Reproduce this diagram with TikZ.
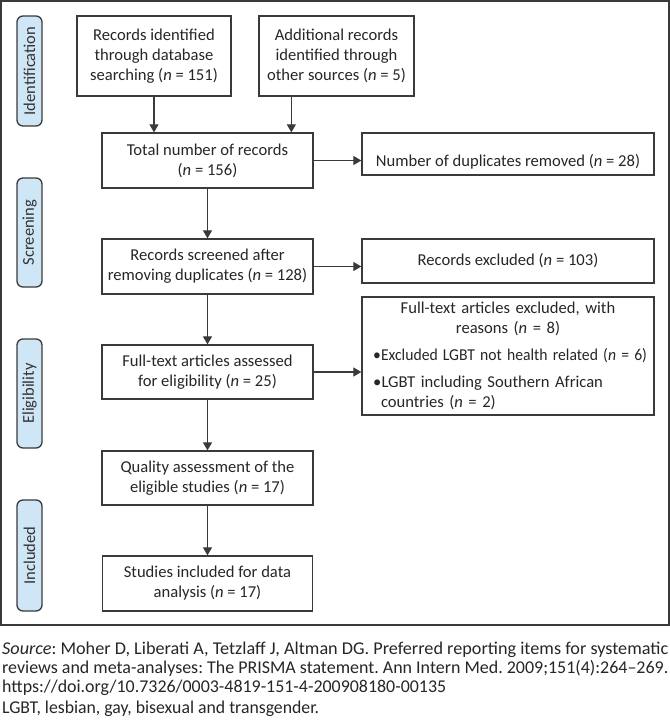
\documentclass[tikz,border=0pt]{standalone}
\usepackage{fontspec}
\usepackage{graphicx}
\setmainfont{Carlito}
\frenchspacing
\usetikzlibrary{arrows.meta}
\definecolor{ln}{HTML}{3A3A3A}
\definecolor{side}{HTML}{CFE6F6}
\begin{document}
\begin{tikzpicture}[x=1pt,y=-1pt,
  box/.style={draw=ln, line width=1.3pt, align=center, inner sep=0pt, text=black!85,
    font=\fontsize{16.6}{20}\selectfont},
  sidebox/.style={draw=ln, fill=side, rounded corners=6pt, line width=1.3pt, rotate=90,
    minimum height=25pt, inner sep=0pt, text=black!80, font=\fontsize{16.5}{20}\selectfont},
  arr/.style={draw=ln, line width=1.2pt, -{Triangle[length=8pt,width=9pt]}},
  captext/.style={anchor=base west, inner sep=0pt, text=black!85, font=\fontsize{18}{19}\selectfont}]
\useasboundingbox (0,0) rectangle (670,721);
\draw[ln, line width=1.2pt] (1,1) rectangle (669,625);

% side labels
\node[sidebox, minimum width=110pt] (sid) at (29.5,71) {Identification};
\node[sidebox, minimum width=109pt] (sscr) at (29.5,232.5) {Screening};
\node[sidebox, minimum width=109pt] (seli) at (29.5,393.5) {Eligibility};
\node[sidebox, minimum width=111pt] (sinc) at (29.5,555.5) {Included};

% main boxes
\node[box, minimum width=154pt, minimum height=80pt] (b1) at (154,56)
  {Records identified\\through database\\searching (\textit{n} = 151)};
\node[box, minimum width=155pt, minimum height=80pt] (b2) at (336.5,56)
  {Additional records\\identified through\\other sources (\textit{n} = 5)};
\node[box, minimum width=211pt, minimum height=55pt] (tot) at (207.5,160.5)
  {Total number of records\\(\textit{n} = 156)};
\node[box, minimum width=292pt, minimum height=42pt, text height=28pt, text depth=4pt] (dup) at (508,154)
  {Number of duplicates removed (\textit{n} = 28)};
\node[box, minimum width=211pt, minimum height=55pt] (scr) at (207.5,266.5)
  {Records screened after\\removing duplicates (\textit{n} = 128)};
\node[box, minimum width=292pt, minimum height=44pt] (exc) at (508,261)
  {Records excluded (\textit{n} = 103)};
\node[box, minimum width=211pt, minimum height=54pt] (ass) at (207.5,372)
  {Full-text articles assessed\\for eligibility (\textit{n} = 25)};
\node[box, minimum width=292pt, minimum height=118pt, text width=280pt, align=left] (ftx) at (508,356)
  {\centering Full-text articles excluded, with\\reasons (\textit{n} = 8)\par
   \raggedright\vspace{7pt}
   \hspace*{5pt}\resizebox{274pt}{\height}{\makebox[8.5pt][l]{\textbullet}Excluded LGBT not health related (\textit{n} = 6)}\\[7pt]
   \hspace*{5pt}\makebox[8.5pt][l]{\textbullet}LGBT including Southern African\\
   \hspace*{13pt}countries (\textit{n} = 2)\par};
\node[box, minimum width=211pt, minimum height=54pt] (qua) at (207.5,478)
  {Quality assessment of the\\eligible studies (\textit{n} = 17)};
\node[box, minimum width=210pt, minimum height=55pt] (inc) at (207.5,583.5)
  {Studies included for data\\analysis (\textit{n} = 17)};

% connectors
\draw[arr] (b1.south) -- (b1.south |- tot.north);
\draw[arr] ([xshift=33pt]b2.south west) -- ([xshift=33pt]b2.south west |- tot.north);
\draw[arr] (tot.east) -- (tot.east -| dup.west);
\draw[arr] (tot.south) -- (scr.north);
\draw[arr] (scr.east) -- (scr.east -| exc.west);
\draw[arr] (scr.south) -- (ass.north);
\draw[arr] (ass.east) -- (ass.east -| ftx.west);
\draw[arr] (ass.south) -- (qua.north);
\draw[arr] (qua.south) -- (inc.north);

% caption
\node[captext] (c1) at (2,654) {\resizebox{666pt}{\height}{\textit{Source}: Moher D, Liberati A, Tetzlaff J, Altman DG. Preferred reporting items for systematic}};
\node[captext] (c2) at (2,673) {\resizebox{666pt}{\height}{reviews and meta-analyses: The PRISMA statement. Ann Intern Med. 2009;151(4):264--269.}};
\node[captext] (c3) at (2,692) {\resizebox{444pt}{\height}{https://doi.org/10.7326/0003-4819-151-4-200908180-00135}};
\node[captext] (c4) at (2,713) {\resizebox{317pt}{\height}{LGBT, lesbian, gay, bisexual and transgender.}};
\end{tikzpicture}
\end{document}
